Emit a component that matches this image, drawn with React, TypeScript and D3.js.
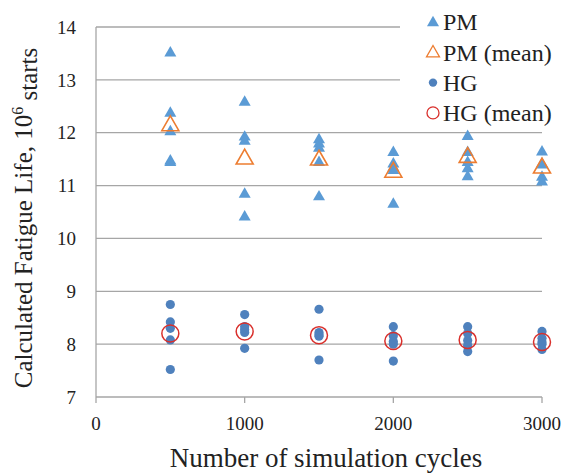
import React from "react";
import { scaleLinear } from "d3";

// x positions (simulation cycles)
const cycles = [500, 1000, 1500, 2000, 2500, 3000];

// individual runs per cycle count
const pmRuns = [
  [13.52, 12.38, 12.03, 11.48, 11.45],
  [12.59, 11.93, 11.85, 10.85, 10.42],
  [11.88, 11.8, 11.72, 11.45, 10.8],
  [11.64, 11.42, 11.35, 11.3, 10.66],
  [11.94, 11.64, 11.45, 11.33, 11.18],
  [11.65, 11.42, 11.4, 11.17, 11.08],
];
const pmMean = [12.15, 11.52, 11.5, 11.27, 11.55, 11.35];

const hgRuns = [
  [8.75, 8.42, 8.3, 8.08, 7.52],
  [8.56, 8.33, 8.27, 8.22, 7.92],
  [8.66, 8.22, 8.18, 8.15, 7.7],
  [8.33, 8.16, 8.05, 8.0, 7.68],
  [8.33, 8.2, 8.07, 7.98, 7.86],
  [8.24, 8.11, 8.04, 8.0, 7.9],
];
const hgMean = [8.2, 8.24, 8.17, 8.06, 8.08, 8.04];

const xTicks = [0, 1000, 2000, 3000];
const yTicks = [7, 8, 9, 10, 11, 12, 13, 14];

const legendItems = ["PM", "PM (mean)", "HG", "HG (mean)"];

const BLUE = "#5B9BD5";
const DOT = "#4F81BD";
const ORANGE = "#ED7D31";
const RED = "#D9302C";
const GRID = "#A6A6A6";
const FONT = "'Liberation Serif', 'Times New Roman', serif";

function tri(cx: number, cy: number, w: number) {
  const h = w * 0.87;
  return `M${cx},${cy - h * 0.6}L${cx + w / 2},${cy + h * 0.4}L${cx - w / 2},${cy + h * 0.4}Z`;
}

export default function App() {
  const width = 566, height = 473;
  const x = scaleLinear().domain([0, 3000]).range([96, 542]);
  const y = scaleLinear().domain([7, 14]).range([397, 27]);

  const legendX = 433;
  const legendY = (i: number) => 22 + i * 30.3;

  return (
    <svg width={width} height={height} style={{ position: "absolute", left: 0, top: 0 }} fontFamily={FONT}>
      {yTicks.map(t => (
        <line key={"g" + t} x1={x(0)} x2={x(3000)} y1={y(t)} y2={y(t)} stroke={GRID} strokeWidth={1.3} />
      ))}
      <line x1={x(0)} x2={x(0)} y1={y(14)} y2={y(7)} stroke={GRID} strokeWidth={1.3} />
      {xTicks.map(t => (
        <line key={"t" + t} x1={x(t)} x2={x(t)} y1={y(7)} y2={y(7) + 6} stroke={GRID} strokeWidth={1.3} />
      ))}
      {yTicks.map(t => (
        <text key={"yl" + t} x={76} y={y(t)} dy="0.35em" textAnchor="end" fontSize={19} fill="#222">{t}</text>
      ))}
      {xTicks.map(t => (
        <text key={"xl" + t} x={x(t)} y={423} dy="0.35em" textAnchor="middle" fontSize={19} fill="#222">{t}</text>
      ))}
      <text x={326} y={458} dy="0.35em" textAnchor="middle" fontSize={27} fill="#222">Number of simulation cycles</text>
      <text transform="translate(23,218) rotate(-90)" textAnchor="middle" dy="0.35em" fontSize={25} fill="#222">
        Calculated Fatigue Life, 10<tspan dy="-0.55em" fontSize={16}>6</tspan><tspan dy="0.55em"> starts</tspan>
      </text>

      {cycles.map((c, i) =>
        pmRuns[i].map((v, j) => (
          <path key={`pm${i}-${j}`} d={tri(x(c), y(v), 12)} fill={BLUE} />
        ))
      )}
      {cycles.map((c, i) => (
        <path key={`pmm${i}`} d={tri(x(c), y(pmMean[i]), 17)} fill="none" stroke={ORANGE} strokeWidth={1.6} />
      ))}
      {cycles.map((c, i) =>
        hgRuns[i].map((v, j) => (
          <circle key={`hg${i}-${j}`} cx={x(c)} cy={y(v)} r={4.6} fill={DOT} />
        ))
      )}
      {cycles.map((c, i) => (
        <circle key={`hgm${i}`} cx={x(c)} cy={y(hgMean[i])} r={8.5} fill="none" stroke={RED} strokeWidth={1.5} />
      ))}

      <rect x={400} y={0} width={166} height={126} fill="#fff" />
      {legendItems.map((name, i) => {
        const cy = legendY(i);
        let mark;
        if (i === 0) mark = <path d={tri(legendX, cy, 12)} fill={BLUE} />;
        else if (i === 1) mark = <path d={tri(legendX, cy, 13)} fill="none" stroke={ORANGE} strokeWidth={1.3} />;
        else if (i === 2) mark = <circle cx={legendX} cy={cy} r={4.2} fill={DOT} />;
        else mark = <circle cx={legendX} cy={cy} r={6} fill="none" stroke={RED} strokeWidth={1.3} />;
        return (
          <g key={name}>
            {mark}
            <text x={443} y={cy} dy="0.35em" fontSize={24} fill="#222">{name}</text>
          </g>
        );
      })}
    </svg>
  );
}
